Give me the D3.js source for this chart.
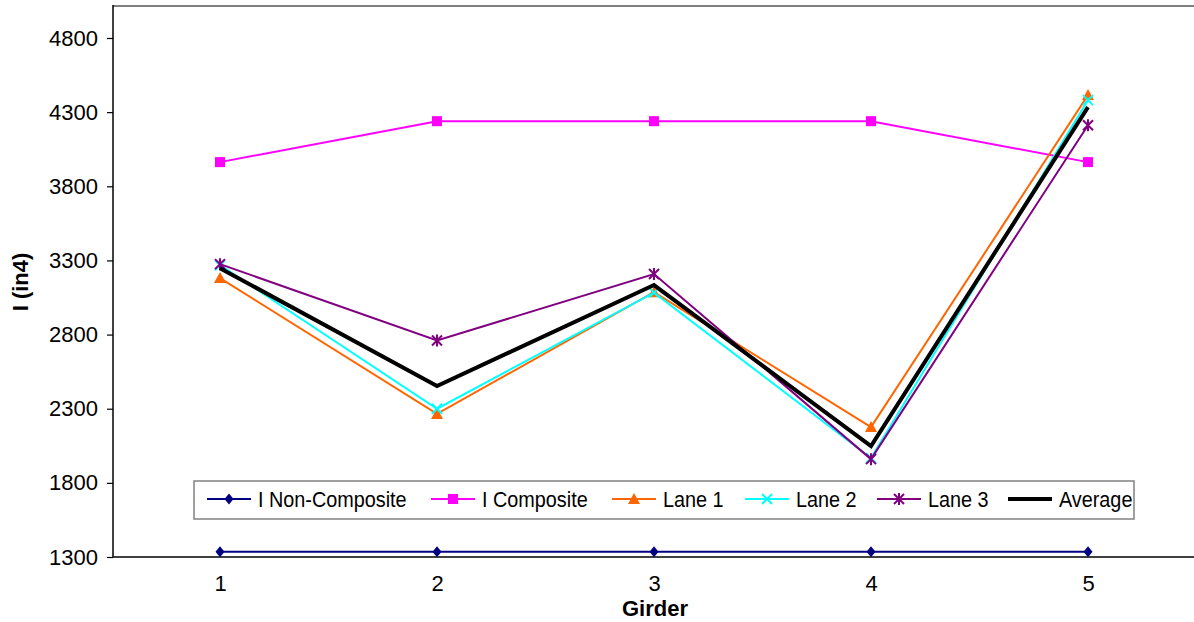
<!DOCTYPE html>
<html><head><meta charset="utf-8">
<script src="https://cdn.jsdelivr.net/npm/d3@7"></script>
<style>body{margin:0;background:#fff;} text{font-family:"Liberation Sans",Arial,sans-serif;}</style>
</head><body>
<svg id="c" width="1194" height="622"></svg>
<script>
const girders = [1, 2, 3, 4, 5];
const yTicks = [1300, 1800, 2300, 2800, 3300, 3800, 4300, 4800];
const nonComposite = [1335, 1335, 1335, 1335, 1335];
const composite = [3963, 4239, 4239, 4239, 3963];
const lane1 = [3181, 2265, 3086, 2176, 4415];
const lane2 = [3268, 2300, 3083, 1967, 4381];
const lane3 = [3275, 2760, 3208, 1960, 4212];
const average = [3248, 2453, 3134, 2048, 4334];

const series = [
  {name: "I Non-Composite", values: nonComposite, color: "#000080", width: 2, marker: "diamond"},
  {name: "I Composite", values: composite, color: "#FF00FF", width: 2, marker: "square"},
  {name: "Lane 1", values: lane1, color: "#FF6600", width: 2, marker: "triangle"},
  {name: "Lane 2", values: lane2, color: "#00FFFF", width: 2, marker: "x"},
  {name: "Lane 3", values: lane3, color: "#800080", width: 2, marker: "star"},
  {name: "Average", values: average, color: "#000000", width: 4, marker: "none"}
];

const svg = d3.select("#c");
const L = 113, T = 6, B = 557;
const x = d3.scalePoint().domain(girders).range([220, 1088]);
const y = d3.scaleLinear().domain([1300, 5000]).range([B, B - 3700 * (519 / 3500)]);

function condense(sel, f) {
  sel.each(function() {
    const w = this.getComputedTextLength();
    d3.select(this).attr("textLength", w * f).attr("lengthAdjust", "spacingAndGlyphs");
  });
}

// plot border top
svg.append("line").attr("x1", L).attr("x2", 1194).attr("y1", T).attr("y2", T)
  .attr("stroke", "#808080").attr("stroke-width", 2);

// y axis
const ya = svg.append("g").attr("transform", `translate(${L},0)`)
  .call(d3.axisLeft(y).tickValues(yTicks).tickFormat(d3.format("d")).tickSize(6).tickPadding(9).tickSizeOuter(0));
ya.select(".domain").remove();
ya.selectAll(".tick line").attr("stroke", "#000").attr("stroke-width", 1.2);
ya.selectAll("text").attr("font-size", 22).attr("fill", "#000")
  .attr("font-family", "'Liberation Sans',Arial,sans-serif");
svg.append("line").attr("x1", L).attr("x2", L).attr("y1", T - 1).attr("y2", B)
  .attr("stroke", "#000").attr("stroke-width", 1.5);

// x axis
const xa = svg.append("g").attr("transform", `translate(0,${B})`)
  .call(d3.axisBottom(x).tickSize(0).tickPadding(18));
xa.select(".domain").remove();
xa.selectAll("text").attr("font-size", 22).attr("fill", "#000")
  .attr("font-family", "'Liberation Sans',Arial,sans-serif");
svg.append("line").attr("x1", L).attr("x2", 1194).attr("y1", B).attr("y2", B)
  .attr("stroke", "#000").attr("stroke-width", 1.5);

// axis titles
svg.append("text").attr("x", 655).attr("y", 616).attr("text-anchor", "middle")
  .attr("font-size", 22).attr("font-weight", "bold").text("Girder");
svg.append("text").attr("transform", "translate(28,282) rotate(-90)").attr("text-anchor", "middle")
  .attr("font-size", 22).attr("font-weight", "bold").text("I (in4)");

function drawMarker(g, type, cx, cy, color) {
  if (type === "diamond") {
    g.append("path").attr("d", `M${cx},${cy-5.5}L${cx+4.5},${cy}L${cx},${cy+5.5}L${cx-4.5},${cy}Z`).attr("fill", color);
  } else if (type === "square") {
    g.append("rect").attr("x", cx - 5).attr("y", cy - 5).attr("width", 10).attr("height", 10).attr("fill", color);
  } else if (type === "triangle") {
    g.append("path").attr("d", `M${cx},${cy-6}L${cx+6},${cy+5}L${cx-6},${cy+5}Z`).attr("fill", color);
  } else if (type === "x") {
    g.append("path").attr("d", `M${cx-5},${cy-5}L${cx+5},${cy+5}M${cx+5},${cy-5}L${cx-5},${cy+5}`)
      .attr("stroke", color).attr("stroke-width", 2);
  } else if (type === "star") {
    g.append("path").attr("d", `M${cx-5},${cy-5}L${cx+5},${cy+5}M${cx+5},${cy-5}L${cx-5},${cy+5}M${cx},${cy-6}L${cx},${cy+6}`)
      .attr("stroke", color).attr("stroke-width", 2);
  }
}

const line = d3.line().x((d, i) => x(girders[i])).y(d => y(d));
const plot = svg.append("g");
series.forEach(s => {
  plot.append("path").attr("d", line(s.values)).attr("fill", "none")
    .attr("stroke", s.color).attr("stroke-width", s.width).attr("stroke-linejoin", "miter");
  s.values.forEach((v, i) => drawMarker(plot, s.marker, x(girders[i]), y(v), s.color));
});

// legend
const lg = svg.append("g");
lg.append("rect").attr("x", 194).attr("y", 481).attr("width", 940).attr("height", 38)
  .attr("fill", "#fff").attr("stroke", "#808080").attr("stroke-width", 1.5);
const ly = 499;
const starts = [207, 431, 612, 745, 877, 1008];
series.forEach((s, i) => {
  const lx = starts[i];
  lg.append("line").attr("x1", lx).attr("x2", lx + 44).attr("y1", ly).attr("y2", ly)
    .attr("stroke", s.color).attr("stroke-width", s.width);
  drawMarker(lg, s.marker, lx + 22, ly, s.color);
  const t = lg.append("text").attr("x", lx + 51).attr("y", ly + 8).attr("font-size", 22).text(s.name);
  condense(t, 0.9);
});
</script>
</body></html>
